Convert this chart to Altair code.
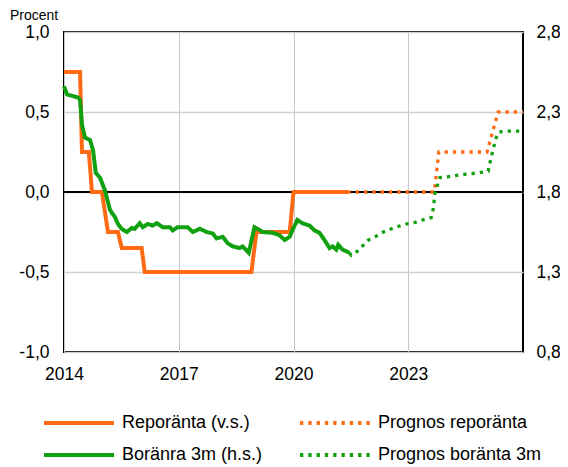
import altair as alt
import pandas as pd

# ---- data ----
repo_x = [2014.00, 2014.42, 2014.47, 2014.65, 2014.73, 2014.99, 2015.15, 2015.41,
          2015.51, 2016.03, 2016.11, 2018.90, 2019.03, 2019.90, 2020.00, 2021.41]
repo_y = [0.75, 0.75, 0.25, 0.25, 0.0, 0.0, -0.25, -0.25,
          -0.35, -0.35, -0.50, -0.50, -0.25, -0.25, 0.0, 0.0]

prog_repo_x = [2021.41, 2023.68, 2023.80, 2025.06, 2025.35, 2026.00]
prog_repo_y = [0.0, 0.0, 0.25, 0.25, 0.50, 0.50]

bolan_x = [2014.00, 2014.08, 2014.37, 2014.42, 2014.47, 2014.55, 2014.68, 2014.76, 2014.83,
           2014.94, 2015.07, 2015.20, 2015.25, 2015.33, 2015.41, 2015.51, 2015.64, 2015.77,
           2015.85, 2015.98, 2016.06, 2016.19, 2016.32, 2016.43, 2016.58, 2016.77, 2016.84,
           2016.97, 2017.23, 2017.37, 2017.55, 2017.73, 2017.89, 2017.99, 2018.15, 2018.28,
           2018.41, 2018.59, 2018.67, 2018.83, 2018.98, 2019.06, 2019.19, 2019.45, 2019.63,
           2019.77, 2019.90, 2019.97, 2020.10, 2020.23, 2020.42, 2020.55, 2020.68, 2020.81,
           2020.94, 2021.02, 2021.12, 2021.17, 2021.28, 2021.38, 2021.46]
bolan_y = [2.46, 2.41, 2.39, 2.375, 2.22, 2.14, 2.125, 2.06, 1.92,
           1.89, 1.81, 1.69, 1.67, 1.645, 1.60, 1.57, 1.55, 1.575,
           1.57, 1.605, 1.58, 1.60, 1.59, 1.605, 1.58, 1.58, 1.56,
           1.58, 1.58, 1.55, 1.57, 1.55, 1.54, 1.51, 1.52, 1.48,
           1.46, 1.45, 1.46, 1.42, 1.58, 1.57, 1.55, 1.545, 1.53,
           1.50, 1.52, 1.56, 1.625, 1.605, 1.59, 1.56, 1.545, 1.50,
           1.45, 1.46, 1.44, 1.47, 1.44, 1.43, 1.42]

prog_bolan_x = [2021.46, 2021.51, 2021.67, 2021.96, 2022.17, 2022.35, 2022.56, 2022.74,
                2022.95, 2023.18, 2023.37, 2023.60, 2023.65, 2023.70, 2023.76, 2023.83,
                2024.02, 2024.46, 2024.85, 2025.09, 2025.17, 2025.30, 2025.37, 2025.56, 2026.00]
prog_bolan_y = [1.42, 1.405, 1.43, 1.50, 1.525, 1.55, 1.57, 1.585,
                1.60, 1.61, 1.625, 1.64, 1.69, 1.79, 1.84, 1.89,
                1.895, 1.91, 1.92, 1.93, 2.02, 2.14, 2.175, 2.18, 2.18]

# legend order: column 1 = actual series, column 2 = forecasts
series_names = ["Reporänta (v.s.)", "Boränra 3m (h.s.)",
                "Prognos reporänta", "Prognos boränta 3m"]
left_ticks = [-1.0, -0.5, 0.0, 0.5, 1.0]
right_ticks = [0.8, 1.3, 1.8, 2.3, 2.8]
x_ticks = [2014, 2017, 2020, 2023]

ORANGE = "#FF6A14"
GREEN = "#10A010"
FONT = "Liberation Sans"

# ---- frames ----
df_repo = pd.DataFrame({"year": repo_x, "value": repo_y, "series": series_names[0]})
df_prog_repo = pd.DataFrame({"year": prog_repo_x, "value": prog_repo_y, "series": series_names[2]})
df_bolan = pd.DataFrame({"year": bolan_x, "value": bolan_y, "series": series_names[1]})
df_prog_bolan = pd.DataFrame({"year": prog_bolan_x, "value": prog_bolan_y, "series": series_names[3]})
df_zero = pd.DataFrame({"value": [0.0]})

x_enc = alt.X("year:Q",
              scale=alt.Scale(domain=[2014, 2026], nice=False, zero=False),
              axis=alt.Axis(values=x_ticks, labelExpr="toString(datum.value)", title=None,
                            grid=True, gridColor="#c8c8c8", gridWidth=1,
                            labelPadding=13, labelAlign="center"))

left_scale = alt.Scale(domain=[-1, 1], nice=False, zero=False)
left_axis = alt.Axis(values=left_ticks, title=None, grid=True, gridColor="#d0d0d0", gridWidth=1.5,
                     labelPadding=15,
                     labelExpr="(datum.value < 0 ? '-' : '') + replace(format(abs(datum.value), '.1f'), '.', ',')")
right_scale = alt.Scale(domain=[0.8, 2.8], nice=False, zero=False)
right_axis = alt.Axis(values=right_ticks, title=None, grid=False, orient="right",
                      labelPadding=13,
                      labelExpr="replace(format(datum.value, '.1f'), '.', ',')")

legend = alt.Legend(title=None, orient="none", legendX=-22, legendY=382, columns=2,
                    symbolType="stroke", symbolSize=4900, symbolStrokeWidth=4,
                    clipHeight=18, rowPadding=14, columnPadding=35, labelLimit=400,
                    labelFont=FONT, labelFontSize=18, labelColor="black", labelOffset=6,
                    padding=0)

color_enc = alt.Color("series:N",
                      scale=alt.Scale(domain=series_names, range=[ORANGE, GREEN, ORANGE, GREEN]),
                      legend=legend)
dash_enc = alt.StrokeDash("series:N",
                          scale=alt.Scale(domain=series_names,
                                          range=[[1, 0], [1, 0], [3.3, 5.0], [3.3, 5.0]]),
                          legend=legend)

zero_rule = alt.Chart(df_zero).mark_rule(color="black", strokeWidth=2).encode(
    y=alt.Y("value:Q", scale=left_scale, axis=left_axis))

repo_line = alt.Chart(df_repo).mark_line(strokeWidth=4).encode(
    x=x_enc, y=alt.Y("value:Q", scale=left_scale, axis=left_axis),
    color=color_enc, strokeDash=dash_enc)
prog_repo_line = alt.Chart(df_prog_repo).mark_line(strokeWidth=3.3).encode(
    x=x_enc, y=alt.Y("value:Q", scale=left_scale, axis=left_axis),
    color=color_enc, strokeDash=dash_enc)

procent = alt.Chart(alt.Data(values=[{"t": "Procent"}])).mark_text(
    align="left", baseline="alphabetic", font=FONT, fontSize=14, color="black",
    x=-54, y=-12).encode(text="t:N")

left = alt.layer(zero_rule, repo_line, prog_repo_line, procent)

bolan_line = alt.Chart(df_bolan).mark_line(strokeWidth=4).encode(
    x=x_enc, y=alt.Y("value:Q", scale=right_scale, axis=right_axis),
    color=color_enc, strokeDash=dash_enc)
prog_bolan_line = alt.Chart(df_prog_bolan).mark_line(strokeWidth=3.3).encode(
    x=x_enc, y=alt.Y("value:Q", scale=right_scale, axis=right_axis),
    color=color_enc, strokeDash=dash_enc)

right = alt.layer(bolan_line, prog_bolan_line)

chart = alt.layer(left, right).resolve_scale(y="independent").properties(
    width=459, height=320,
    autosize=alt.AutoSizeParams(type="none"),
    padding={"left": 56, "top": 24, "right": 37, "bottom": 115},
    background="white",
).configure_view(
    stroke="black", strokeWidth=2
).configure_axis(
    labelFont=FONT, labelFontSize=17.5, labelColor="black",
    ticks=False, tickSize=0, domain=False
)

chart.save("out.html", embed_options={"renderer": "svg", "actions": False})
